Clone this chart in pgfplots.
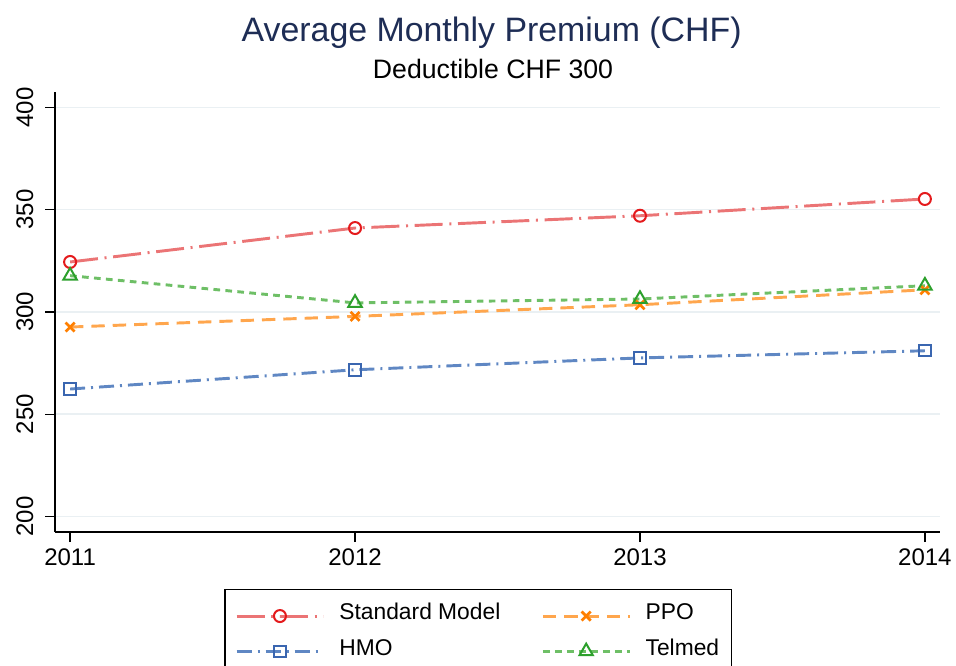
\documentclass[border=0pt]{standalone}
\usepackage{fontspec}
\setmainfont{Liberation Sans}
\usepackage{pgfplots}
\pgfplotsset{compat=1.18}
\definecolor{titleblue}{HTML}{1E2D55}
\definecolor{stdline}{HTML}{EB7475}
\definecolor{stdmark}{HTML}{E41A1C}
\definecolor{ppoline}{HTML}{FFA64D}
\definecolor{ppomark}{HTML}{FF7F00}
\definecolor{hmoline}{HTML}{5F87C3}
\definecolor{hmomark}{HTML}{3A66B0}
\definecolor{telline}{HTML}{6EBF66}
\definecolor{telmark}{HTML}{2CA02C}
\definecolor{gridc}{HTML}{EAF0F3}
\begin{document}
\begin{tikzpicture}
\useasboundingbox (-41.25pt,-99.75pt) rectangle (675.75pt,399pt);
\begin{axis}[
  scale only axis,
  width=663.75pt, height=329.7pt,
  xmin=2010.947, xmax=2014.053,
  ymin=192.4, ymax=407.3,
  axis x line*=bottom, axis y line*=left,
  axis line style={-, line width=1pt, black},
  xtick={2011,2012,2013,2014},
  ytick={200,250,300,350,400},
  tick align=outside,
  major tick length=7.5pt,
  tick style={line width=1pt, black},
  ymajorgrids,
  major grid style={gridc, line width=1.1pt},
  /pgf/number format/assume math mode=true,
  /pgf/number format/1000 sep={},
  ticklabel style={font=\fontsize{18}{21}\selectfont},
  xticklabel style={inner sep=4.5pt},
  yticklabel style={rotate=90, anchor=south, inner sep=8.5pt},
  legend columns=2,
  legend style={
    at={(0.4785,-0.129)}, anchor=north,
    draw=black, line width=1pt,
    inner xsep=7.5pt, inner ysep=13pt,
    font=\fontsize{17.1}{20}\selectfont,
    nodes={inner sep=2pt, text height=0.78em, text depth=0.22em},
    /tikz/row sep=12.5pt,
    /tikz/every odd column/.style={column sep=9pt},
    /tikz/every even column/.style={column sep=28.75pt},
  },
  legend cell align=left,
  legend image code/.code={\draw[mark repeat=2,mark phase=2] plot coordinates {(0pt,0pt) (32.5pt,0pt) (65pt,0pt)};},
]
\addplot[stdline, line width=2.2pt, dash pattern=on 21pt off 5pt on 1.5pt off 5pt,
  mark=o, mark size=4.5pt, mark options={solid, draw=stdmark, line width=1.5pt, fill=white}]
  coordinates {(2011,324.4) (2012,341.0) (2013,347.0) (2014,355.2)};
\addlegendentry{Standard Model}
\addplot[ppoline, line width=2.2pt, dash pattern=on 10pt off 6pt,
  mark=x, mark size=4.8pt, mark options={solid, draw=ppomark, line width=2pt}]
  coordinates {(2011,292.6) (2012,297.8) (2013,303.5) (2014,310.8)};
\addlegendentry{PPO}
\addplot[hmoline, line width=2.2pt, dash pattern=on 11.25pt off 4.5pt on 1.5pt off 4.5pt,
  mark=square, mark size=4.3pt, mark options={solid, draw=hmomark, line width=1.5pt, fill=white}]
  coordinates {(2011,262.3) (2012,271.7) (2013,277.5) (2014,281.0)};
\addlegendentry{HMO}
\addplot[telline, line width=2.2pt, dash pattern=on 5pt off 4pt,
  mark=triangle, mark size=5.8pt, mark options={solid, draw=telmark, line width=1.5pt, fill=white}]
  coordinates {(2011,317.7) (2012,304.4) (2013,306.3) (2014,312.8)};
\addlegendentry{Telmed}
\end{axis}
\node[anchor=base, text=titleblue, font=\fontsize{25.4}{30}\selectfont] at (327.5pt,367.7pt) {Average Monthly Premium (CHF)};
\node[anchor=base, text=black, font=\fontsize{20}{24}\selectfont] at (328.5pt,339.75pt) {Deductible CHF 300};
\end{tikzpicture}
\end{document}
